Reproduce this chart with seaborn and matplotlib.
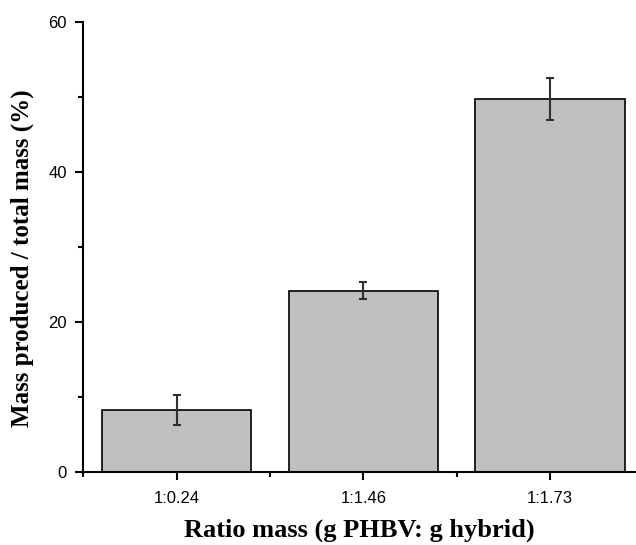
import matplotlib
matplotlib.use("Agg")
import matplotlib.pyplot as plt
import seaborn as sns
import pandas as pd
from matplotlib.ticker import MultipleLocator, FixedLocator

categories = ["1:0.24", "1:1.46", "1:1.73"]
values = [8.3, 24.2, 49.8]
errors = [2.0, 1.1, 2.8]

sns.set_style("ticks")
plt.rcParams["font.family"] = ["Liberation Sans", "DejaVu Sans"]
plt.rcParams["text.color"] = "black"
plt.rcParams["axes.labelcolor"] = "black"

df = pd.DataFrame({"ratio": categories, "mass": values})

fig = plt.figure(figsize=(6.36, 5.45), dpi=100)
ax = fig.add_axes([83.3 / 636, 1 - 472 / 545, 1 - 83.3 / 636, (472 - 22) / 545])

sns.barplot(data=df, x="ratio", y="mass", color="#C0C0C0", edgecolor="black",
            linewidth=1.2, width=0.8, saturation=1, errorbar=None, ax=ax)
ax.errorbar(range(len(categories)), values, yerr=errors, fmt="none",
            ecolor="#303030", elinewidth=1.5, capsize=3.2, capthick=1.5, zorder=5)

ax.set_xlim(-0.5, 2.46)
ax.set_ylim(0, 60)
ax.yaxis.set_major_locator(MultipleLocator(20))
ax.yaxis.set_minor_locator(MultipleLocator(10))
ax.xaxis.set_minor_locator(FixedLocator([-0.5, 0.5, 1.5]))

for s in ["top", "right"]:
    ax.spines[s].set_visible(False)
for s in ["left", "bottom"]:
    ax.spines[s].set_linewidth(1.5)
    ax.spines[s].set_color("black")

ax.tick_params(axis="both", which="major", direction="out", length=6, width=1.5,
               labelsize=12, color="black", labelcolor="black", pad=6)
ax.tick_params(axis="both", which="minor", direction="out", length=3.5, width=1.5,
               color="black")
ax.tick_params(axis="x", which="major", pad=8)

ax.set_xlabel("Ratio mass (g PHBV: g hybrid)", fontsize=19, fontweight="bold",
              family=["Liberation Serif"], color="black")
ax.set_ylabel("Mass produced / total mass (%)", fontsize=18, fontweight="bold",
              family=["Liberation Serif"], color="black")
ax.xaxis.set_label_coords(0.5, (472 - 519) / 450)
ax.yaxis.set_label_coords((34 - 83.3) / 552.7, (472 - 258) / 450)

fig.savefig("out.png", dpi=100)
